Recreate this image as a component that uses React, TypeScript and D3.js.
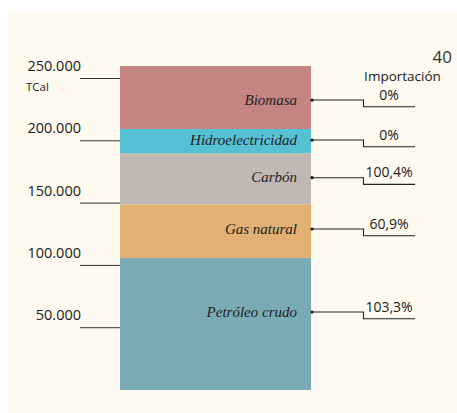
import React from "react";
import * as d3 from "d3";

const categories = ["Petróleo crudo", "Gas natural", "Carbón", "Hidroelectricidad", "Biomasa"];
const values = [106000, 43000, 41000, 19500, 50500];
const imports = ["103,3%", "60,9%", "100,4%", "0%", "0%"];
const labelAt = [62600, 129200, 170400, 200600, 232700];
const colors = ["#7aaab5", "#e3b074", "#c1b8b4", "#56c1d5", "#c48482"];
const tickValues = [50000, 100000, 150000, 200000, 250000];
const tickLabels = ["50.000", "100.000", "150.000", "200.000", "250.000"];

export default function App() {
  const W = 457, H = 413;
  const y = d3.scaleLinear().domain([0, 250000]).range([390, 78.5]);
  const barX0 = 120, barX1 = 311;
  const stacks: { c: string; y0: number; y1: number; col: string }[] = [];
  let acc = 0;
  values.forEach((v, i) => {
    stacks.push({ c: categories[i], y0: acc, y1: acc + v, col: colors[i] });
    acc += v;
  });
  const sans = "'Open Sans', 'Noto Sans', sans-serif";
  const serif = "'Liberation Serif', 'DejaVu Serif', serif";
  return (
    <svg width={W} height={H} style={{ position: "absolute", left: 0, top: 0 }}>
      <rect x={8} y={11} width={W - 8} height={H - 11} fill="#fffaf0" />
      {stacks.map((s, i) => (
        <rect key={i} x={barX0} width={barX1 - barX0} y={y(s.y1)} height={y(s.y0) - y(s.y1)} fill={s.col} />
      ))}
      {tickValues.map((t, i) => (
        <g key={i}>
          <line x1={80} x2={barX0} y1={y(t)} y2={y(t)} stroke="#333" strokeWidth={1} />
          <text x={81} y={y(t) - 7.5} textAnchor="end" fontFamily={sans} fontSize={14.5} fill="#1a1a1a">
            {tickLabels[i]}
          </text>
        </g>
      ))}
      <text x={26} y={91} fontFamily={sans} fontSize={11.5} fill="#1a1a1a">TCal</text>
      {stacks.map((s, i) => {
        const ly = y(labelAt[i]);
        return (
          <g key={"l" + i}>
            <text x={297} y={ly + 4.5} textAnchor="end" fontFamily={serif} fontStyle="italic" fontSize={15} fill="#222">
              {s.c}
            </text>
            <circle cx={barX1 + 1} cy={ly} r={1.6} fill="#111" />
            <path d={`M${barX1},${ly}H363.5V${ly + 6.7}H415`} fill="none" stroke="#222" strokeWidth={1.1} />
            <text x={389} y={ly - 0.5} textAnchor="middle" fontFamily={sans} fontSize={14} fill="#1a1a1a">
              {imports[i]}
            </text>
          </g>
        );
      })}
      <text x={402.5} y={80.5} textAnchor="middle" fontFamily={sans} fontSize={13.5} fill="#1a1a1a">Importación</text>
      <text x={452} y={63.3} textAnchor="end" fontFamily={sans} fontSize={17} fill="#333">40</text>
    </svg>
  );
}
